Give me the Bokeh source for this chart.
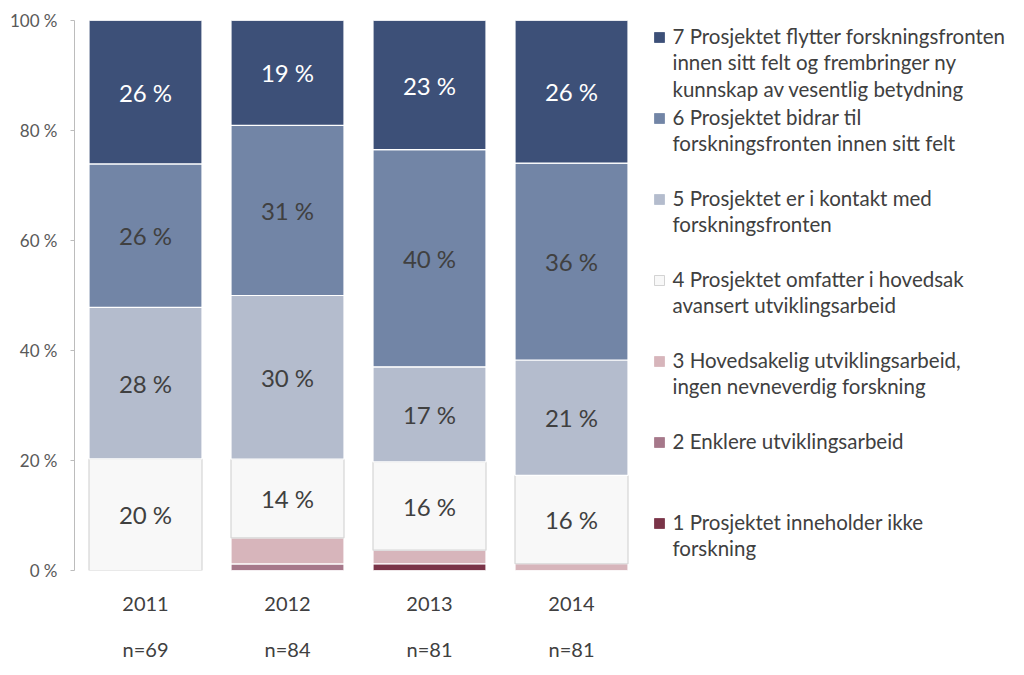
from bokeh.plotting import figure
from bokeh.models import Range1d, LinearAxis, FixedTicker, ColumnDataSource
from bokeh.core.properties import value
from bokeh.embed import file_html
from bokeh.resources import INLINE

years = ["2011", "2012", "2013", "2014"]
n_labels = ["n=69", "n=84", "n=81", "n=81"]

# percentages per category (bottom to top: level 1 .. level 7)
s1 = [0.0, 0.0, 1.23, 0.0]
s2 = [0.0, 1.19, 0.0, 0.0]
s3 = [0.0, 4.76, 2.47, 1.23]
s4 = [20.29, 14.29, 16.05, 16.05]
s5 = [27.54, 29.76, 17.28, 20.99]
s6 = [26.09, 30.95, 39.51, 35.80]
s7 = [26.09, 19.05, 23.46, 25.93]

series_names = [
    "1 Prosjektet inneholder ikke\nforskning",
    "2 Enklere utviklingsarbeid",
    "3 Hovedsakelig utviklingsarbeid,\ningen nevneverdig forskning",
    "4 Prosjektet omfatter i hovedsak\navansert utviklingsarbeid",
    "5 Prosjektet er i kontakt med\nforskningsfronten",
    "6 Prosjektet bidrar til\nforskningsfronten innen sitt felt",
    "7 Prosjektet flytter forskningsfronten\ninnen sitt felt og frembringer ny\nkunnskap av vesentlig betydning",
]
colors = ["#7a3448", "#a6788a", "#d7b5bb", "#f8f8f8", "#b4bccd", "#7285a6", "#3d5078"]
outline = ["white", "white", "white", "#d6d6d6", "white", "white", "white"]
labelled = [False, False, False, True, True, True, True]
label_colors = ["#404040"] * 6 + ["white"]

series = [s1, s2, s3, s4, s5, s6, s7]
xs = [1, 2, 3, 4]

FONT = "Lato"
GREY = "#404040"

LEFT = 74          # canvas left border
FRAME_X0 = 77      # frame left edge as seen on the page
TOP = 20
FRAME_H = 550
FRAME_W = 940
PX_X = 142  # pixels per category

p = figure(frame_width=FRAME_W, frame_height=FRAME_H, output_backend="svg",
           toolbar_location=None,
           x_range=Range1d(0.5, 0.5 + FRAME_W / PX_X), y_range=Range1d(0, 100),
           min_border_left=LEFT, min_border_right=0, min_border_top=TOP,
           min_border_bottom=0)
p.outline_line_color = None
p.grid.visible = False
p.background_fill_color = "white"
p.border_fill_color = "white"

bottom = [0.0] * 4
for i, s in enumerate(series):
    top = [b + v for b, v in zip(bottom, s)]
    src = ColumnDataSource(dict(x=xs, bottom=bottom, top=top))
    p.vbar(x="x", bottom="bottom", top="top", width=113 / PX_X, source=src,
           fill_color=colors[i], line_color=outline[i], line_width=1.2)
    if labelled[i]:
        mids = [(b + t) / 2 for b, t in zip(bottom, top)]
        txt = [f"{int(v + 0.5)} %" for v in s]
        p.text(x=xs, y=mids, text=txt, text_align="center", text_baseline="middle",
               text_font=value(FONT), text_font_size="24px", text_color=label_colors[i])
    bottom = top

# y axis
p.yaxis.ticker = FixedTicker(ticks=[0, 20, 40, 60, 80, 100])
p.yaxis.major_label_overrides = {t: f"{t} %" for t in [0, 20, 40, 60, 80, 100]}
p.yaxis.axis_line_color = "#bcbcbc"
p.yaxis.axis_line_width = 1
p.yaxis.major_tick_line_color = "#bcbcbc"
p.yaxis.major_tick_out = 4
p.yaxis.major_tick_in = 0
p.yaxis.minor_tick_line_color = None
p.yaxis.major_label_text_font = FONT
p.yaxis.major_label_text_font_size = "17px"
p.yaxis.major_label_text_color = "#595959"
p.yaxis.major_label_standoff = 13

# x axes: years and n
xa = p.xaxis[0]
xa.ticker = FixedTicker(ticks=xs)
xa.major_label_overrides = {x: y for x, y in zip(xs, years)}
xa.axis_line_color = None
xa.major_tick_line_color = None
xa.minor_tick_line_color = None
xa.major_label_text_font = FONT
xa.major_label_text_font_size = "20px"
xa.major_label_text_color = GREY
xa.major_label_standoff = 20

xa2 = LinearAxis(ticker=FixedTicker(ticks=xs),
                 major_label_overrides={x: n for x, n in zip(xs, n_labels)},
                 axis_line_color=None, major_tick_line_color=None,
                 minor_tick_line_color=None, major_label_text_font=FONT,
                 major_label_text_font_size="20px", major_label_text_color=GREY,
                 major_label_standoff=17)
p.add_layout(xa2, "below")

# legend (top = level 7)
leg_x_text = 0.5 + (675 - FRAME_X0) / PX_X
leg_x_sw = 0.5 + (662 - FRAME_X0) / PX_X
px_y = FRAME_H / 100.0
order = list(range(6, -1, -1))
slot_y = [(570 - (37 + 81.0 * k)) / px_y for k in range(7)]
p.rect(x=[leg_x_sw] * 7, y=slot_y, width=10, height=10, width_units="screen",
       height_units="screen", fill_color=[colors[i] for i in order],
       line_color=["#c8c8c8" if i == 3 else colors[i] for i in order], line_width=0.8)
p.text(x=[leg_x_text] * 7, y=[y + 13.5 / px_y for y in slot_y],
       text=[series_names[i] for i in order], text_align="left", text_baseline="top",
       text_font=value(FONT), text_font_size="20.5px", text_color=GREY,
       text_line_height=1.10)

open("out.html", "w").write(file_html(p, INLINE))
